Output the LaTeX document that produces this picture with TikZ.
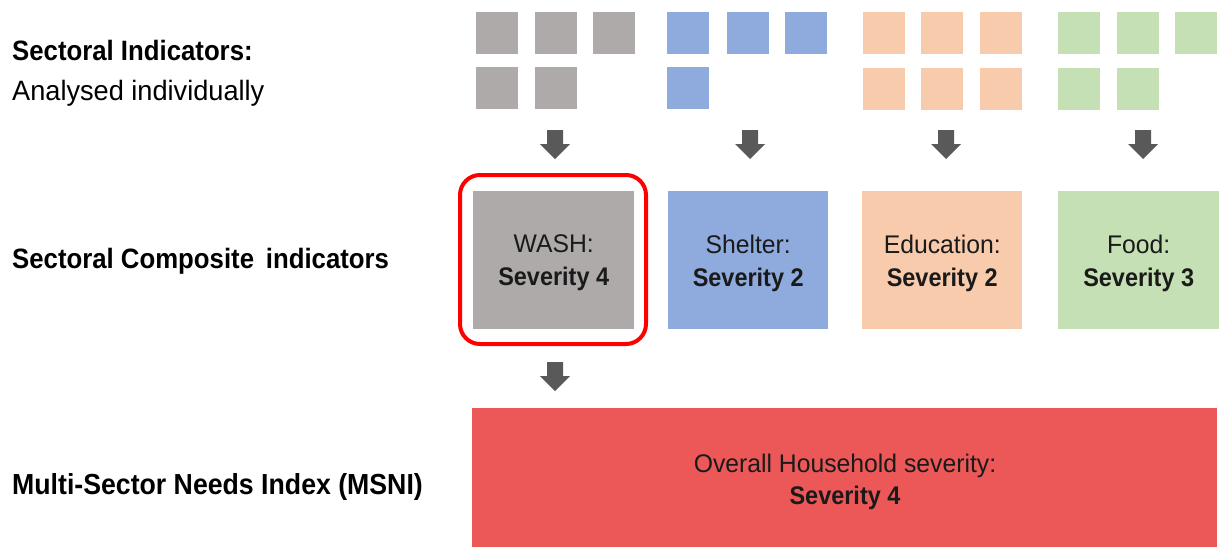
\documentclass[tikz,border=0pt]{standalone}
\usepackage{fontspec}
\setmainfont{Liberation Sans}[FakeStretch=0.97,BoldFeatures={FakeStretch=0.92}]
\definecolor{cgray}{HTML}{ADAAA9}
\definecolor{cblue}{HTML}{8FAADC}
\definecolor{corange}{HTML}{F8CBAD}
\definecolor{cgreen}{HTML}{C5E0B4}
\definecolor{cred}{HTML}{EC5858}
\definecolor{arrowgray}{HTML}{595959}
\definecolor{txt}{HTML}{1A1A1A}
\tikzset{
  sq/.style={minimum width=42pt,minimum height=42pt,inner sep=0pt,anchor=north west},
  boxtext/.style={align=center,text=txt,font=\fontsize{25.5}{33}\selectfont},
  compbox/.style={minimum width=161pt,minimum height=138pt,inner sep=0pt,anchor=north west,boxtext},
  leftlabel/.style={anchor=west,inner sep=0pt,font=\fontsize{28}{34}\selectfont},
  pics/downarrow/.style={code={
    \fill[arrowgray] (-8,0) -- (8,0) -- (8,14) -- (15,14) -- (0,29) -- (-15,14) -- (-8,14) -- cycle;}}
}
\begin{document}
\begin{tikzpicture}[x=1pt,y=-1pt]
\useasboundingbox[fill=white] (0,0) rectangle (1219,547);
% left labels
\node[leftlabel] (l1) at (12,50) {\textbf{Sectoral Indicators:}};
\node[leftlabel] (l2) at (12,93) {Analysed individually};
\node[leftlabel] (l3) at (12,261) {\textbf{Sectoral Composite\, indicators}};
\node[leftlabel] (l4) at (12,487) {\textbf{\fontsize{29}{34}\selectfont Multi-Sector Needs Index (MSNI)}};
% small squares
\foreach \x/\n in {476/1,535/2,593/3} \node[sq,fill=cgray] (g\n) at (\x,12) {};
\foreach \x/\n in {476/4,535/5} \node[sq,fill=cgray] (g\n) at (\x,67) {};
\foreach \x/\n in {667/1,727/2,785/3} \node[sq,fill=cblue] (b\n) at (\x,12) {};
\node[sq,fill=cblue] (b4) at (667,67) {};
\foreach \x/\n in {863/1,921/2,980/3} \node[sq,fill=corange] (o\n) at (\x,12) {};
\foreach \x/\n in {863/4,921/5,980/6} \node[sq,fill=corange] (o\n) at (\x,68) {};
\foreach \x/\n in {1058/1,1117/2,1175/3} \node[sq,fill=cgreen] (f\n) at (\x,12) {};
\foreach \x/\n in {1058/4,1117/5} \node[sq,fill=cgreen] (f\n) at (\x,68) {};
% arrows
\foreach \x in {555,750,946,1143} \pic at (\x,130) {downarrow};
\pic at (555,362) {downarrow};
% composite boxes
\node[compbox,fill=cgray] (wash) at (473,191) {};
\node[compbox,fill=cblue,minimum width=160pt] (shelter) at (668,191) {};
\node[compbox,fill=corange,minimum width=160pt] (edu) at (862,191) {};
\node[compbox,fill=cgreen,minimum width=161pt] (food) at (1058,191) {};
\foreach \b/\a/\s in {wash/WASH/4,shelter/Shelter/2,edu/Education/2,food/Food/3}
  \node[boxtext,yshift=-3pt] (\b-t) at (\b.center) {\a:\\\textbf{Severity \s}};
% red highlight
\draw[red,line width=4pt,rounded corners=20pt] (460,175) rectangle (646,344);
% MSNI box
\node[fill=cred,minimum width=745pt,minimum height=139pt,inner sep=0pt,anchor=north west] (msni) at (472,408) {};
\node[boxtext,font=\fontsize{25.5}{32}\selectfont] (msni-t) at (845,482)
  {Overall Household severity:\\\textbf{Severity 4}};
\end{tikzpicture}
\end{document}
